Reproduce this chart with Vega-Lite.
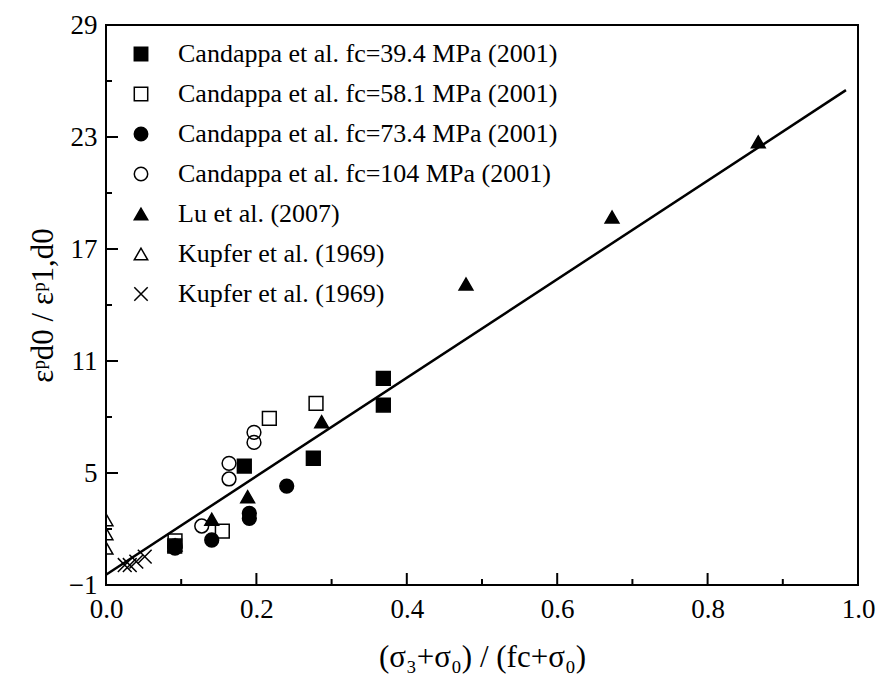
{
  "$schema": "https://vega.github.io/schema/vega-lite/v6.json",
  "width": 752,
  "height": 560,
  "autosize": {"type": "none"},
  "padding": {"left": 106, "top": 25, "right": 22, "bottom": 95},
  "background": "white",
  "datasets": {
    "xticks": [
      {"v": 0.0, "len": 24}, {"v": 0.1, "len": 12}, {"v": 0.2, "len": 24}, {"v": 0.3, "len": 12},
      {"v": 0.4, "len": 24}, {"v": 0.5, "len": 12}, {"v": 0.6, "len": 24}, {"v": 0.7, "len": 12},
      {"v": 0.8, "len": 24}, {"v": 0.9, "len": 12}, {"v": 1.0, "len": 24}
    ],
    "yticks": [
      {"v": -1, "len": 24}, {"v": 2, "len": 12}, {"v": 5, "len": 24}, {"v": 8, "len": 12},
      {"v": 11, "len": 24}, {"v": 14, "len": 12}, {"v": 17, "len": 24}, {"v": 20, "len": 12},
      {"v": 23, "len": 24}, {"v": 26, "len": 12}, {"v": 29, "len": 24}
    ]
  },
  "config": {
    "view": {"stroke": "black", "strokeWidth": 2},
    "font": "Liberation Serif",
    "axis": {
      "domain": false,
      "ticks": false,
      "grid": false,
      "labelColor": "black",
      "titleColor": "black",
      "labelFont": "Liberation Serif",
      "titleFont": "Liberation Serif",
      "labelFontSize": 27,
      "titleFontSize": 31,
      "titleFontWeight": "normal"
    }
  },
  "layer": [
    {
      "data": {
        "values": [
          {"series": "Candappa et al. fc=104 MPa (2001)", "x": 0.0918, "y": 1.09},
          {"series": "Candappa et al. fc=104 MPa (2001)", "x": 0.1273, "y": 2.16},
          {"series": "Candappa et al. fc=104 MPa (2001)", "x": 0.1636, "y": 4.68},
          {"series": "Candappa et al. fc=104 MPa (2001)", "x": 0.1636, "y": 5.52},
          {"series": "Candappa et al. fc=104 MPa (2001)", "x": 0.1968, "y": 6.64},
          {"series": "Candappa et al. fc=104 MPa (2001)", "x": 0.1968, "y": 7.18},
          {"series": "Candappa et al. fc=58.1 MPa (2001)", "x": 0.0918, "y": 1.36},
          {"series": "Candappa et al. fc=58.1 MPa (2001)", "x": 0.1547, "y": 1.89},
          {"series": "Candappa et al. fc=58.1 MPa (2001)", "x": 0.2172, "y": 7.93},
          {"series": "Candappa et al. fc=58.1 MPa (2001)", "x": 0.2793, "y": 8.73},
          {"series": "Kupfer et al. (1969)", "x": 0.0, "y": 0.98},
          {"series": "Kupfer et al. (1969)", "x": 0.0, "y": 1.75},
          {"series": "Kupfer et al. (1969)", "x": 0.0, "y": 2.5},
          {"series": "Kupfer et al. (1969) ", "x": 0.0249, "y": 0.07},
          {"series": "Kupfer et al. (1969) ", "x": 0.0316, "y": 0.07},
          {"series": "Kupfer et al. (1969) ", "x": 0.0403, "y": 0.25},
          {"series": "Kupfer et al. (1969) ", "x": 0.0515, "y": 0.52},
          {"series": "Candappa et al. fc=39.4 MPa (2001)", "x": 0.0914, "y": 1.09},
          {"series": "Candappa et al. fc=39.4 MPa (2001)", "x": 0.1839, "y": 5.37},
          {"series": "Candappa et al. fc=39.4 MPa (2001)", "x": 0.2757, "y": 5.79},
          {"series": "Candappa et al. fc=39.4 MPa (2001)", "x": 0.3688, "y": 8.64},
          {"series": "Candappa et al. fc=39.4 MPa (2001)", "x": 0.3688, "y": 10.07},
          {"series": "Candappa et al. fc=73.4 MPa (2001)", "x": 0.0918, "y": 0.98},
          {"series": "Candappa et al. fc=73.4 MPa (2001)", "x": 0.1406, "y": 1.41},
          {"series": "Candappa et al. fc=73.4 MPa (2001)", "x": 0.1906, "y": 2.57},
          {"series": "Candappa et al. fc=73.4 MPa (2001)", "x": 0.1906, "y": 2.84},
          {"series": "Candappa et al. fc=73.4 MPa (2001)", "x": 0.2403, "y": 4.30},
          {"series": "Lu et al. (2007)", "x": 0.0918, "y": 1.14},
          {"series": "Lu et al. (2007)", "x": 0.1406, "y": 2.52},
          {"series": "Lu et al. (2007)", "x": 0.1884, "y": 3.73},
          {"series": "Lu et al. (2007)", "x": 0.2868, "y": 7.75},
          {"series": "Lu et al. (2007)", "x": 0.4787, "y": 15.12},
          {"series": "Lu et al. (2007)", "x": 0.6729, "y": 18.71},
          {"series": "Lu et al. (2007)", "x": 0.8674, "y": 22.74}
        ]
      },
      "mark": {"type": "point", "strokeWidth": 1.5, "opacity": 1, "clip": true, "size": 190},
      "encoding": {
        "x": {
          "field": "x",
          "type": "quantitative",
          "scale": {"domain": [0, 1], "nice": false, "zero": false},
          "axis": {
            "values": [0, 0.2, 0.4, 0.6, 0.8, 1.0],
            "format": ".1f",
            "labelPadding": 11,
            "labelFlush": false,
            "title": "(σ₃+σ₀) / (fc+σ₀)",
            "titlePadding": 20
          }
        },
        "y": {
          "field": "y",
          "type": "quantitative",
          "scale": {"domain": [-1, 29], "nice": false, "zero": false},
          "axis": {
            "values": [-1, 5, 11, 17, 23, 29],
            "labelPadding": 9,
            "labelFlush": false,
            "title": "εᵖd0 / εᵖ1,d0",
            "titlePadding": 9
          }
        },
        "shape": {
          "field": "series",
          "type": "nominal",
          "scale": {
            "domain": ["Candappa et al. fc=39.4 MPa (2001)", "Candappa et al. fc=58.1 MPa (2001)", "Candappa et al. fc=73.4 MPa (2001)", "Candappa et al. fc=104 MPa (2001)", "Lu et al. (2007)", "Kupfer et al. (1969)", "Kupfer et al. (1969) "],
            "range": ["square", "square", "circle", "circle", "triangle-up", "triangle-up", "M-1,-1L1,1M-1,1L1,-1"]
          },
          "legend": {
            "orient": "none",
            "legendX": 22,
            "legendY": 16,
            "title": null,
            "labelFontSize": 26,
            "labelFont": "Liberation Serif",
            "labelColor": "black",
            "symbolSize": 180,
            "symbolStrokeWidth": 1.5,
            "rowPadding": 14,
            "labelOffset": 24,
            "padding": 0,
            "labelLimit": 500
          }
        },
        "fill": {
          "field": "series",
          "type": "nominal",
          "scale": {
            "domain": ["Candappa et al. fc=39.4 MPa (2001)", "Candappa et al. fc=58.1 MPa (2001)", "Candappa et al. fc=73.4 MPa (2001)", "Candappa et al. fc=104 MPa (2001)", "Lu et al. (2007)", "Kupfer et al. (1969)", "Kupfer et al. (1969) "],
            "range": ["black", "transparent", "black", "transparent", "black", "transparent", "transparent"]
          },
          "legend": {
            "orient": "none",
            "legendX": 22,
            "legendY": 16,
            "title": null,
            "labelFontSize": 26,
            "labelFont": "Liberation Serif",
            "labelColor": "black",
            "symbolSize": 180,
            "symbolStrokeWidth": 1.5,
            "rowPadding": 14,
            "labelOffset": 24,
            "padding": 0,
            "labelLimit": 500
          }
        },
        "stroke": {
          "field": "series",
          "type": "nominal",
          "scale": {
            "domain": ["Candappa et al. fc=39.4 MPa (2001)", "Candappa et al. fc=58.1 MPa (2001)", "Candappa et al. fc=73.4 MPa (2001)", "Candappa et al. fc=104 MPa (2001)", "Lu et al. (2007)", "Kupfer et al. (1969)", "Kupfer et al. (1969) "],
            "range": ["black", "black", "black", "black", "black", "black", "black"]
          },
          "legend": {
            "orient": "none",
            "legendX": 22,
            "legendY": 16,
            "title": null,
            "labelFontSize": 26,
            "labelFont": "Liberation Serif",
            "labelColor": "black",
            "symbolSize": 180,
            "symbolStrokeWidth": 1.5,
            "rowPadding": 14,
            "labelOffset": 24,
            "padding": 0,
            "labelLimit": 500
          }
        }
      }
    },
    {
      "data": {"name": "xticks"},
      "mark": {"type": "tick", "orient": "vertical", "color": "black", "thickness": 2, "opacity": 1, "clip": true},
      "encoding": {
        "x": {
          "field": "v",
          "type": "quantitative",
          "axis": {
            "values": [0, 0.2, 0.4, 0.6, 0.8, 1.0],
            "format": ".1f",
            "labelPadding": 11,
            "labelFlush": false,
            "title": "(σ₃+σ₀) / (fc+σ₀)",
            "titlePadding": 20
          }
        },
        "y": {
          "datum": -1,
          "type": "quantitative",
          "axis": {
            "values": [-1, 5, 11, 17, 23, 29],
            "labelPadding": 9,
            "labelFlush": false,
            "title": "εᵖd0 / εᵖ1,d0",
            "titlePadding": 9
          }
        },
        "size": {"field": "len", "type": "quantitative", "scale": null, "legend": null}
      }
    },
    {
      "data": {"name": "yticks"},
      "mark": {"type": "tick", "orient": "horizontal", "color": "black", "thickness": 2, "opacity": 1, "clip": true},
      "encoding": {
        "y": {
          "field": "v",
          "type": "quantitative",
          "axis": {
            "values": [-1, 5, 11, 17, 23, 29],
            "labelPadding": 9,
            "labelFlush": false,
            "title": "εᵖd0 / εᵖ1,d0",
            "titlePadding": 9
          }
        },
        "x": {
          "datum": 0,
          "type": "quantitative",
          "axis": {
            "values": [0, 0.2, 0.4, 0.6, 0.8, 1.0],
            "format": ".1f",
            "labelPadding": 11,
            "labelFlush": false,
            "title": "(σ₃+σ₀) / (fc+σ₀)",
            "titlePadding": 20
          }
        },
        "size": {"field": "len", "type": "quantitative", "scale": null, "legend": null}
      }
    },
    {
      "data": {"values": [{"x": 0.0, "y": -0.45}, {"x": 0.984, "y": 25.51}]},
      "mark": {"type": "line", "color": "black", "strokeWidth": 2.5},
      "encoding": {
        "x": {
          "field": "x",
          "type": "quantitative",
          "axis": {
            "values": [0, 0.2, 0.4, 0.6, 0.8, 1.0],
            "format": ".1f",
            "labelPadding": 11,
            "labelFlush": false,
            "title": "(σ₃+σ₀) / (fc+σ₀)",
            "titlePadding": 20
          }
        },
        "y": {
          "field": "y",
          "type": "quantitative",
          "axis": {
            "values": [-1, 5, 11, 17, 23, 29],
            "labelPadding": 9,
            "labelFlush": false,
            "title": "εᵖd0 / εᵖ1,d0",
            "titlePadding": 9
          }
        }
      }
    }
  ]
}
